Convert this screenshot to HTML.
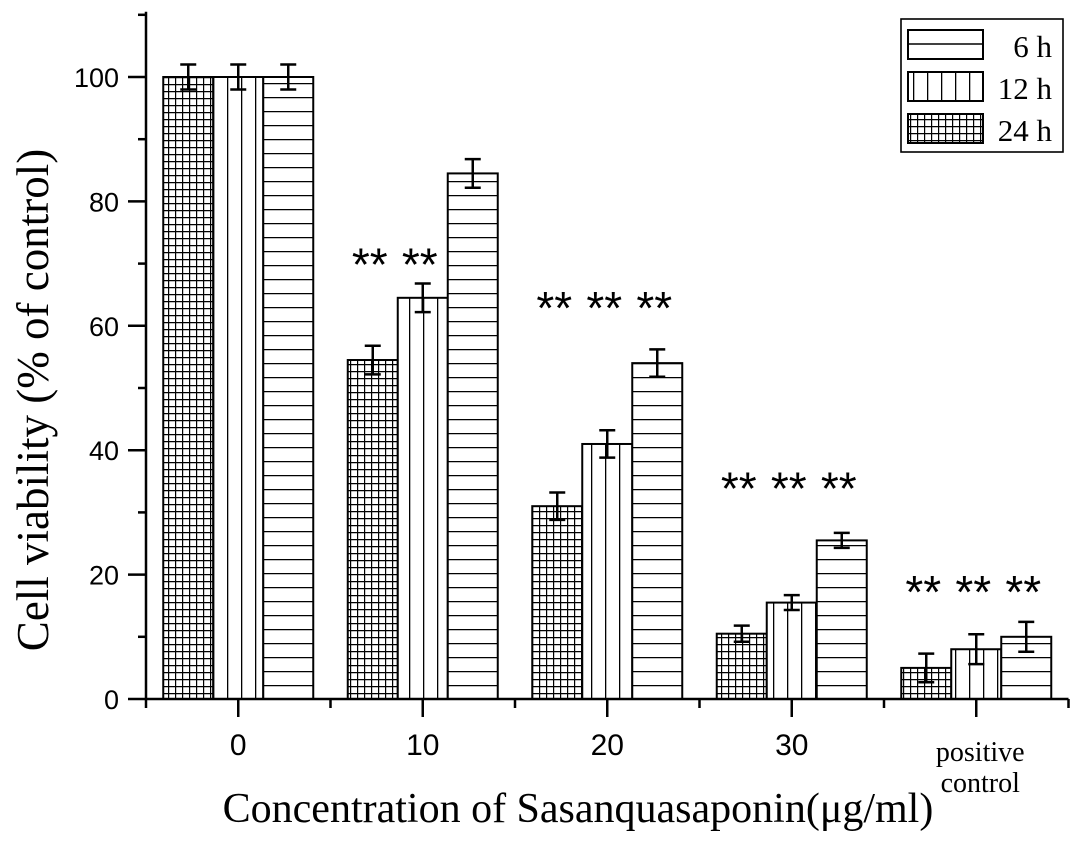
<!DOCTYPE html>
<html><head><meta charset="utf-8"><style>
html,body{margin:0;padding:0;background:#fff}
svg{display:block}
</style></head><body>
<svg id="chart" width="1087" height="842" viewBox="0 0 1087 842" xmlns="http://www.w3.org/2000/svg">
<defs>
<pattern id="pH" patternUnits="userSpaceOnUse" width="50" height="14" y="699"><rect width="50" height="14" fill="#fff"/><line x1="0" y1="0.5" x2="50" y2="0.5" stroke="#000" stroke-width="1.6"/></pattern>
<pattern id="pV" patternUnits="userSpaceOnUse" width="14" height="20" x="213"><rect width="14" height="20" fill="#fff"/><line x1="0.5" y1="0" x2="0.5" y2="20" stroke="#000" stroke-width="1.6"/></pattern>
<pattern id="pG" patternUnits="userSpaceOnUse" width="7" height="7"><rect width="7" height="7" fill="#fff"/><path d="M0 0.5H7M0.5 0V7" stroke="#000" stroke-width="1.4"/></pattern>
</defs>
<g id="plot"></g>
<g>
<rect x="901" y="19" width="162" height="133" fill="#fff" stroke="#000" stroke-width="1.6"/>
<rect x="908" y="30" width="75" height="29" fill="#fff" stroke="#000" stroke-width="2"/>
<line x1="908" y1="44" x2="983" y2="44" stroke="#000" stroke-width="1.6"/>
<rect x="908" y="72" width="75" height="29" fill="url(#pV)" stroke="#000" stroke-width="2"/>
<rect x="908" y="114" width="75" height="29" fill="url(#pG)" stroke="#000" stroke-width="2"/>
<text x="1052" y="57" text-anchor="end" font-family="Liberation Serif, serif" font-size="31">6 h</text>
<text x="1052" y="99" text-anchor="end" font-family="Liberation Serif, serif" font-size="31">12 h</text>
<text x="1052" y="141" text-anchor="end" font-family="Liberation Serif, serif" font-size="31">24 h</text>
</g>
<text transform="translate(48,400) rotate(-90)" text-anchor="middle" font-family="Liberation Serif, serif" font-size="45">Cell viability (% of control)</text>
<text x="578" y="822" text-anchor="middle" font-family="Liberation Serif, 'Noto Serif CJK SC', serif" font-size="42">Concentration of Sasanquasaponin(μg/ml)</text>
</svg>
<script>
const categories = ['0','10','20','30','positive control'];
const series = ['24 h','12 h','6 h'];
const values24 = [100, 54.5, 31, 10.5, 5];
const values12 = [100, 64.5, 41, 15.5, 8];
const values6 = [100, 84.5, 54, 25.5, 10];
const err24 = [2, 2.3, 2.2, 1.3, 2.3];
const err12 = [2, 2.3, 2.2, 1.2, 2.4];
const err6 = [2, 2.3, 2.2, 1.2, 2.4];
const sig24 = [false, true, true, true, true];
const sig12 = [false, true, true, true, true];
const sig6 = [false, false, true, true, true];
const starLevel = [0, 71, 64, 35, 18.3];
const yTicks = [0, 20, 40, 60, 80, 100];

const NS='http://www.w3.org/2000/svg';
const g=document.getElementById('plot');
const x0=146, y0=699, yScale=6.22, groupW=184.5, barW=50, yMaxV=110.5;
const yPos=v=>y0-v*yScale;
const groupCenter=i=>x0+groupW*(i+0.5);
function mk(tag,attrs,parent){const e=document.createElementNS(NS,tag);for(const k in attrs)e.setAttribute(k,attrs[k]);(parent||g).appendChild(e);return e;}

const fills=['url(#pG)','url(#pV)','url(#pH)'];
const vals=[values24,values12,values6], errs=[err24,err12,err6], sigs=[sig24,sig12,sig6];
categories.forEach((c,i)=>{
  for(let s=0;s<3;s++){
    const bx=groupCenter(i)-75+s*barW, v=vals[s][i], e=errs[s][i];
    const r=mk('rect',{x:bx,y:yPos(v),width:barW,height:v*yScale,fill:fills[s],stroke:'#000','stroke-width':2});
    
    
    const cx=bx+barW/2;
    const eb=mk('path',{d:`M${cx} ${yPos(v+e)}V${yPos(v-e)}M${cx-8} ${yPos(v+e)}H${cx+8}M${cx-8} ${yPos(v-e)}H${cx+8}`,stroke:'#000','stroke-width':2.5,fill:'none'});
    
    
    if(sigs[s][i]){
      const t=mk('text',{x:cx-3,y:yPos(starLevel[i])+23,'text-anchor':'middle','font-family':'Liberation Sans, sans-serif','font-size':46});
      
      
      t.textContent='**';
    }
  }
});
const ax=mk('path',{d:`M${x0} ${yPos(yMaxV)}V${y0}H${x0+groupW*5}`,stroke:'#000','stroke-width':2.5,fill:'none'});


yTicks.forEach(v=>{
  const t=mk('line',{x1:x0-18,x2:x0,y1:yPos(v),y2:yPos(v),stroke:'#000','stroke-width':2.5});
  
  
  const m=mk('line',{x1:x0-8,x2:x0,y1:yPos(v+10),y2:yPos(v+10),stroke:'#000','stroke-width':2.5});
  
  
  const l=mk('text',{x:x0-27,y:yPos(v)+10,'text-anchor':'end','font-family':'Liberation Sans, sans-serif','font-size':27});
  
  
  l.textContent=v;
});
categories.forEach((c,i)=>{
  const t=mk('line',{x1:groupCenter(i),x2:groupCenter(i),y1:y0,y2:y0+18,stroke:'#000','stroke-width':2.5});
  
  
  if(i<4){
    const l=mk('text',{x:groupCenter(i),y:y0+56,'text-anchor':'middle','font-family':'Liberation Sans, sans-serif','font-size':30});
    
    
    l.textContent=c;
  } else {
    const l=mk('text',{x:groupCenter(i)+4,y:y0+62,'text-anchor':'middle','font-family':'Liberation Serif, serif','font-size':28});
    
    
    l.textContent='positive';
    const l2=mk('text',{x:groupCenter(i)+4,y:y0+93,'text-anchor':'middle','font-family':'Liberation Serif, serif','font-size':28});
    
    
    l2.textContent='control';
  }
});
for(let k=0;k<=5;k++){
  const m=mk('line',{x1:x0+groupW*k,x2:x0+groupW*k,y1:y0,y2:y0+9,stroke:'#000','stroke-width':2.5});
  
  
}
</script>
</body></html>
